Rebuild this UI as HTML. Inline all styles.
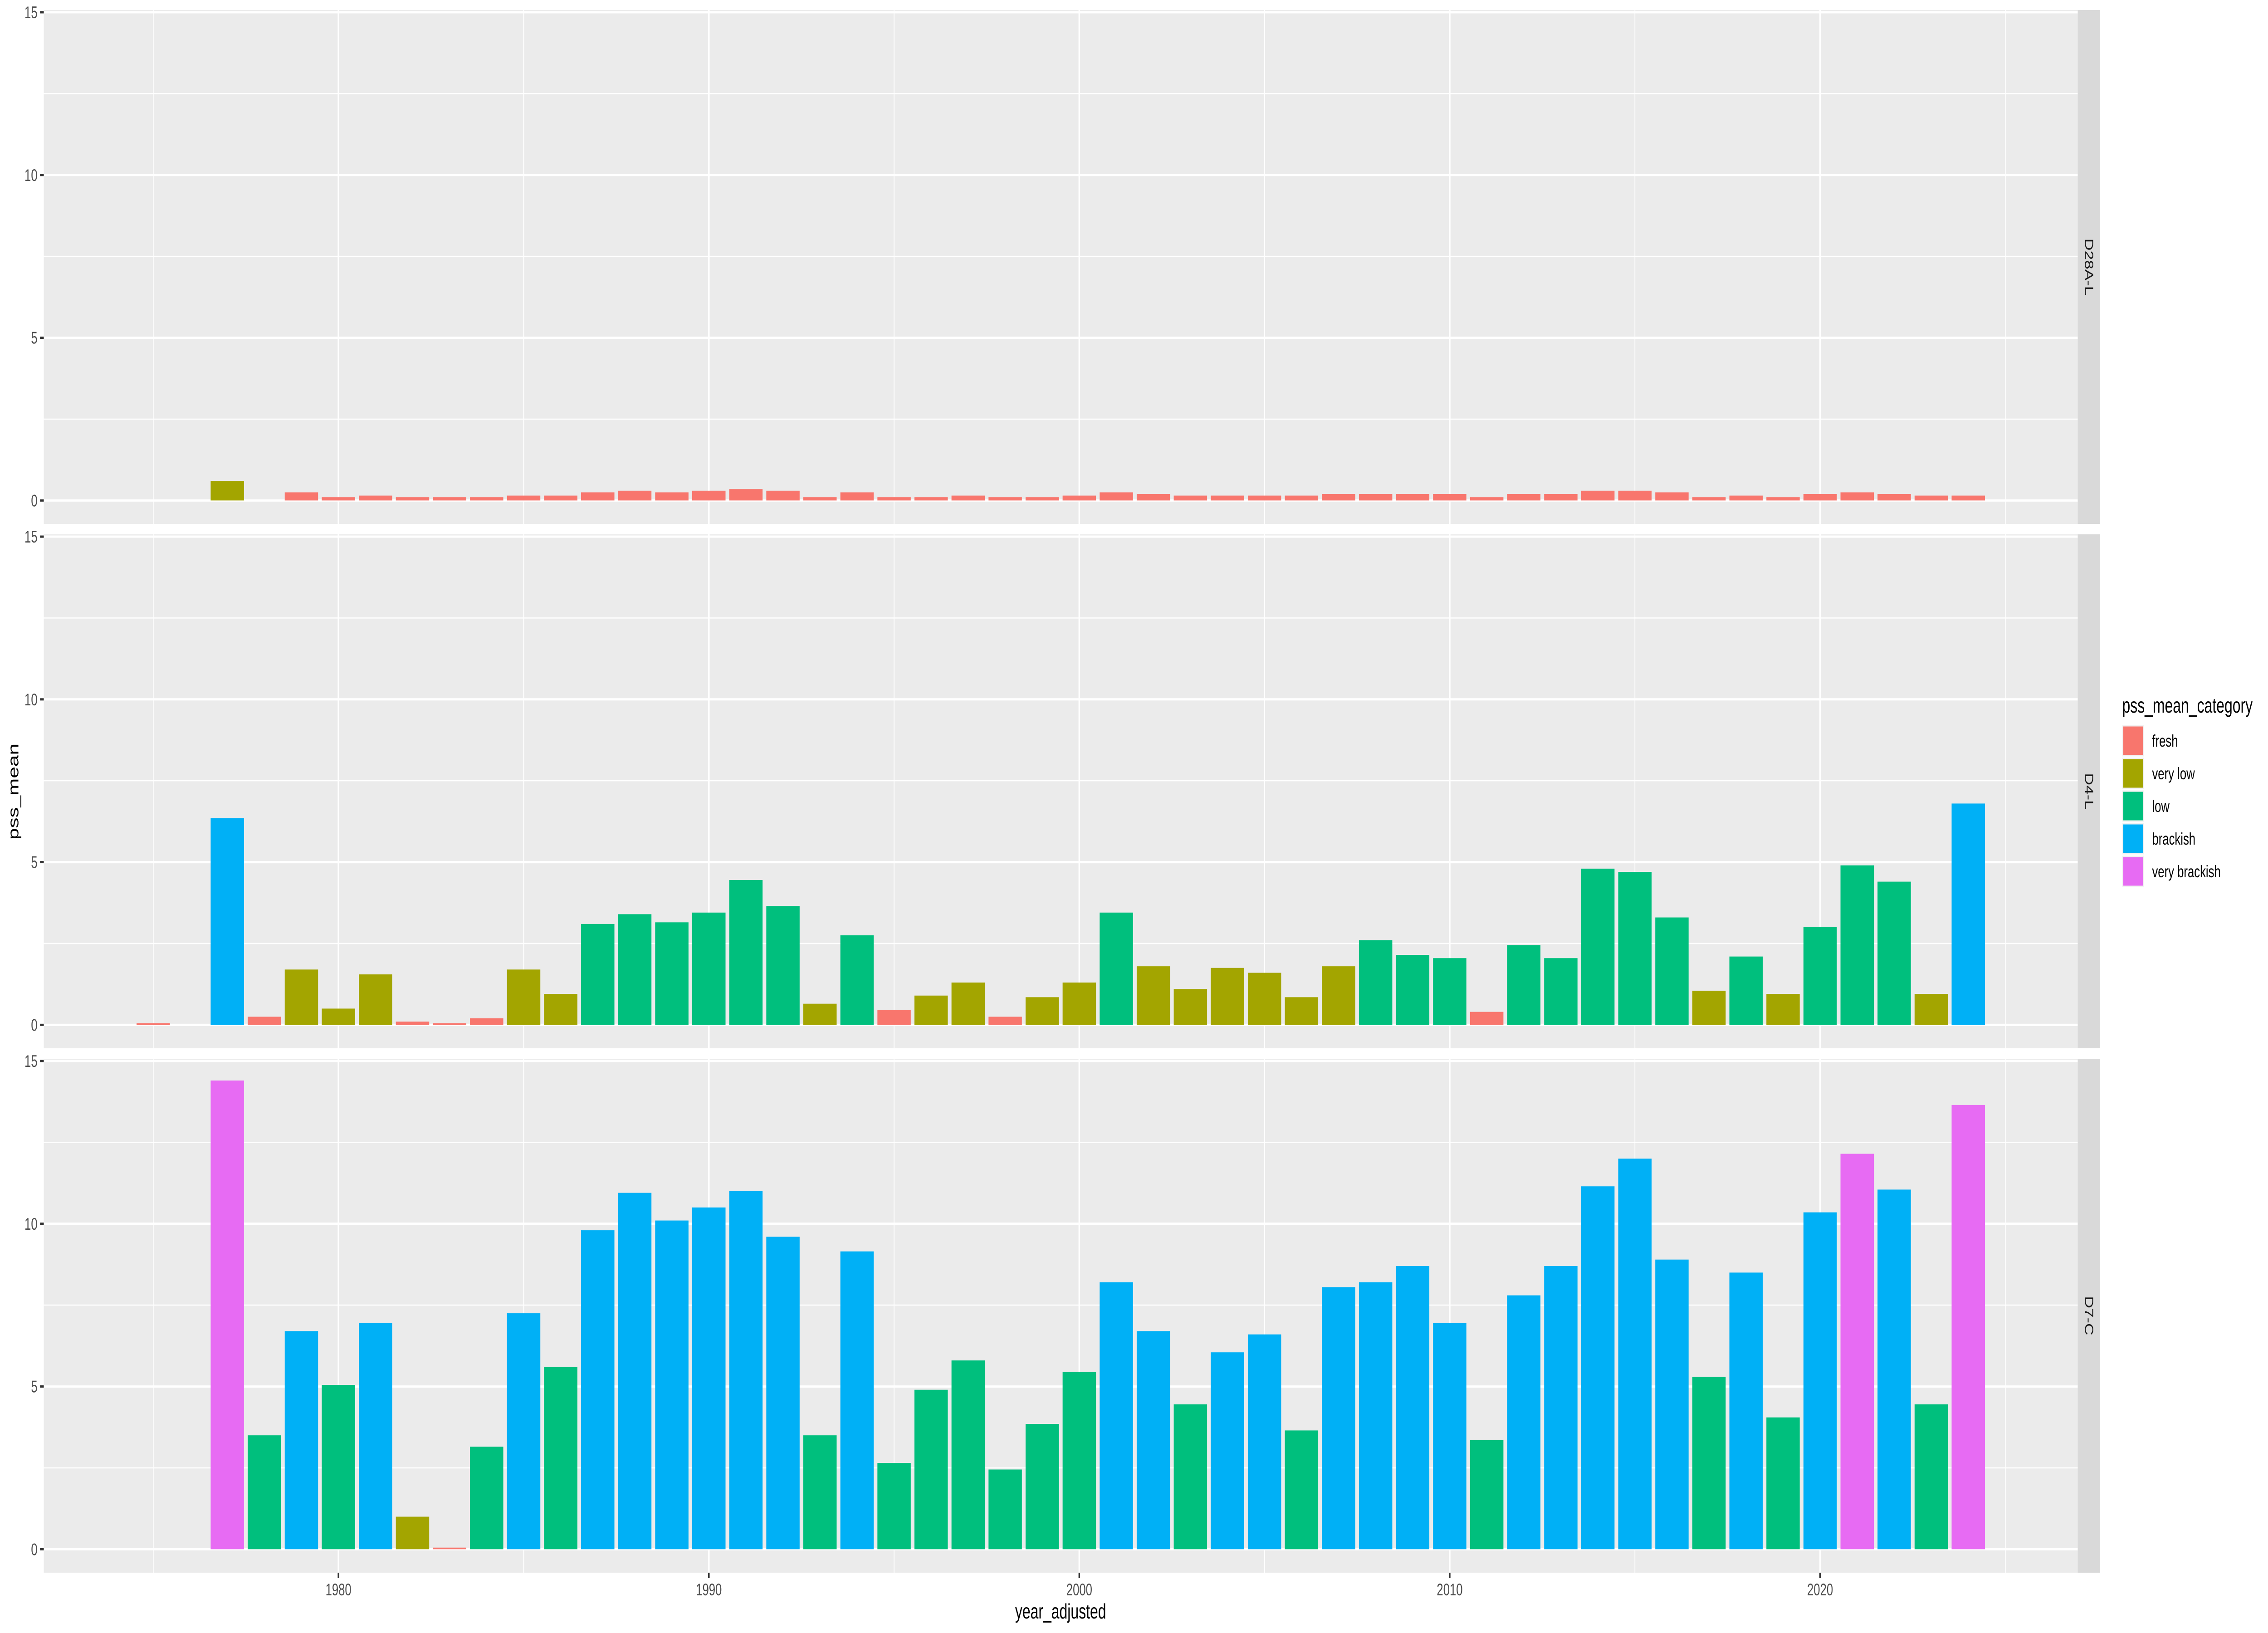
<!DOCTYPE html>
<html><head><meta charset="utf-8"><style>
html,body{margin:0;padding:0;background:#fff;width:100%;height:100%;overflow:hidden;}
svg{display:block;width:100vw;height:100vh;font-family:"Liberation Sans",Arial,sans-serif;}
</style></head><body>
<svg id="chart" viewBox="0 0 7200 3600" preserveAspectRatio="none" xmlns="http://www.w3.org/2000/svg">
<rect width="7200" height="3600" fill="#ffffff"/>
<g id="panels"></g>
<text x="3367" y="3568" font-size="46" text-anchor="middle" fill="#000">year_adjusted</text>
<text transform="translate(58,1745) rotate(-90)" font-size="46" text-anchor="middle" fill="#000">pss_mean</text>
<g id="legend">
<text x="6737" y="1571" font-size="46" fill="#000">pss_mean_category</text>
</g>
</svg>
<script>
const facets = ["D28A-L","D4-L","D7-C"];
const categories = ["fresh","very low","low","brackish","very brackish"];
const catColors = ["#F8766D","#A3A500","#00BF7D","#00B0F6","#E76BF3"];
const xTicks = [1980,1990,2000,2010,2020];
const yTicks = [0,5,10,15];

const d28Years = [1977,1979,1980,1981,1982,1983,1984,1985,1986,1987,1988,1989,1990,1991,1992,1993,1994,1995,1996,1997,1998,1999,2000,2001,2002,2003,2004,2005,2006,2007,2008,2009,2010,2011,2012,2013,2014,2015,2016,2017,2018,2019,2020,2021,2022,2023,2024];
const d28Values = [0.6,0.25,0.1,0.15,0.1,0.1,0.1,0.15,0.15,0.25,0.3,0.25,0.3,0.35,0.3,0.1,0.25,0.1,0.1,0.15,0.1,0.1,0.15,0.25,0.2,0.15,0.15,0.15,0.15,0.2,0.2,0.2,0.2,0.1,0.2,0.2,0.3,0.3,0.25,0.1,0.15,0.1,0.2,0.25,0.2,0.15,0.15];
const d28Cats = [1,0,0,0,0,0,0,0,0,0,0,0,0,0,0,0,0,0,0,0,0,0,0,0,0,0,0,0,0,0,0,0,0,0,0,0,0,0,0,0,0,0,0,0,0,0,0];

const d4Years = [1975,1977,1978,1979,1980,1981,1982,1983,1984,1985,1986,1987,1988,1989,1990,1991,1992,1993,1994,1995,1996,1997,1998,1999,2000,2001,2002,2003,2004,2005,2006,2007,2008,2009,2010,2011,2012,2013,2014,2015,2016,2017,2018,2019,2020,2021,2022,2023,2024];
const d4Values = [0.05,6.35,0.25,1.7,0.5,1.55,0.1,0.05,0.2,1.7,0.95,3.1,3.4,3.15,3.45,4.45,3.65,0.65,2.75,0.45,0.9,1.3,0.25,0.85,1.3,3.45,1.8,1.1,1.75,1.6,0.85,1.8,2.6,2.15,2.05,0.4,2.45,2.05,4.8,4.7,3.3,1.05,2.1,0.95,3.0,4.9,4.4,0.95,6.8];
const d4Cats = [0,3,0,1,1,1,0,0,0,1,1,2,2,2,2,2,2,1,2,0,1,1,0,1,1,2,1,1,1,1,1,1,2,2,2,0,2,2,2,2,2,1,2,1,2,2,2,1,3];

const d7Years = [1977,1978,1979,1980,1981,1982,1983,1984,1985,1986,1987,1988,1989,1990,1991,1992,1993,1994,1995,1996,1997,1998,1999,2000,2001,2002,2003,2004,2005,2006,2007,2008,2009,2010,2011,2012,2013,2014,2015,2016,2017,2018,2019,2020,2021,2022,2023,2024];
const d7Values = [14.4,3.5,6.7,5.05,6.95,1.0,0.05,3.15,7.25,5.6,9.8,10.95,10.1,10.5,11.0,9.6,3.5,9.15,2.65,4.9,5.8,2.45,3.85,5.45,8.2,6.7,4.45,6.05,6.6,3.65,8.05,8.2,8.7,6.95,3.35,7.8,8.7,11.15,12.0,8.9,5.3,8.5,4.05,10.35,12.15,11.05,4.45,13.65];
const d7Cats = [4,2,3,2,3,1,0,2,3,2,3,3,3,3,3,3,2,3,2,2,2,2,2,2,3,3,2,3,3,2,3,3,3,3,2,3,3,3,3,3,2,3,2,3,4,3,2,4];

const NS="http://www.w3.org/2000/svg";
const PL=139, PR=6596, XMIN=1972.045, XMAX=2026.955;
const panelTops=[22,1178,2334], PH=1133, YMIN=-0.72, YMAX=15.07;
function xs(v){return PL+(v-XMIN)/(XMAX-XMIN)*(PR-PL);}
function ys(v,p){return panelTops[p]+PH-(v-YMIN)/(YMAX-YMIN)*PH;}
function mk(tag,attrs,parent){const e=document.createElementNS(NS,tag);for(const k in attrs)e.setAttribute(k,attrs[k]);parent.appendChild(e);return e;}
const root=document.getElementById('panels');
const series=[[d28Years,d28Values,d28Cats],[d4Years,d4Values,d4Cats],[d7Years,d7Values,d7Cats]];
const bw=0.9;
facets.forEach((f,p)=>{
  const g=mk('g',{},root);
  
  
  const top=panelTops[p];
  const bg=mk('rect',{x:PL,y:top,width:PR-PL,height:PH,fill:'#EBEBEB'},g);
  
  
  [2.5,7.5,12.5].forEach(v=>{const l=mk('line',{x1:PL,x2:PR,y1:ys(v,p),y2:ys(v,p),stroke:'#fff','stroke-width':2.5},g);});
  [1975,1985,1995,2005,2015,2025].forEach(v=>{const l=mk('line',{x1:xs(v),x2:xs(v),y1:top,y2:top+PH,stroke:'#fff','stroke-width':2.5},g);});
  yTicks.forEach(v=>{const l=mk('line',{x1:PL,x2:PR,y1:ys(v,p),y2:ys(v,p),stroke:'#fff','stroke-width':5},g);
    const t=mk('line',{x1:PL-12,x2:PL,y1:ys(v,p),y2:ys(v,p),stroke:'#333','stroke-width':5},g);
    const tx=mk('text',{x:PL-20,y:ys(v,p)+13,'font-size':37,'text-anchor':'end',fill:'#4D4D4D'},g);tx.textContent=v;});
  xTicks.forEach(v=>{const l=mk('line',{x1:xs(v),x2:xs(v),y1:top,y2:top+PH,stroke:'#fff','stroke-width':5},g);});
  const [yrs,vals,cats]=series[p];
  yrs.forEach((yr,i)=>{
    const y0=ys(0,p), y1=ys(vals[i],p);
    const r=mk('rect',{x:xs(yr-bw/2),y:Math.min(y0,y1),width:xs(yr+bw/2)-xs(yr-bw/2),height:Math.abs(y0-y1),fill:catColors[cats[i]]},g);
    
    
  });
  const s=mk('rect',{x:PR,y:top,width:71,height:PH,fill:'#D9D9D9'},g);
  
  
  const st=mk('text',{transform:`translate(${PR+23},${top+PH/2}) rotate(90)`,'font-size':37,'text-anchor':'middle',fill:'#1A1A1A'},g);
  st.textContent=f;
  
  
});
const bottom=panelTops[2]+PH;
xTicks.forEach(v=>{
  const t=mk('line',{x1:xs(v),x2:xs(v),y1:bottom,y2:bottom+12,stroke:'#333','stroke-width':5},root);
  
  
  const tx=mk('text',{x:xs(v),y:bottom+50,'font-size':37,'text-anchor':'middle',fill:'#4D4D4D'},root);
  tx.textContent=v;
  
  
});
const lg=document.getElementById('legend');
categories.forEach((c,i)=>{
  const y=1600+i*72;
  const k=mk('rect',{x:6739,y:y,width:66,height:66,fill:catColors[i],stroke:'#F2F2F2','stroke-width':3},lg);
  
  
  const t=mk('text',{x:6832,y:y+46,'font-size':37,fill:'#000'},lg);
  t.textContent=c;
  
  
});
</script>
</body></html>
